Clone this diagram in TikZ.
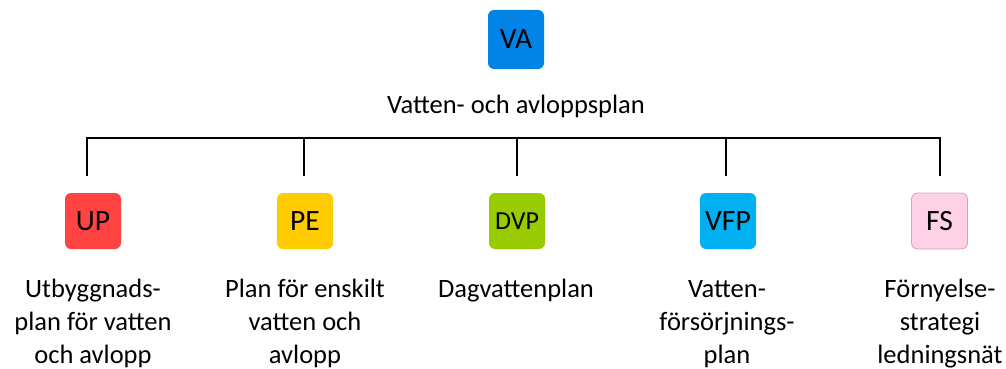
\documentclass[tikz,border=0pt]{standalone}
\usepackage{fontspec}
\setmainfont{Carlito}
\definecolor{cVA}{HTML}{0082E6}
\definecolor{cUP}{HTML}{FF4343}
\definecolor{cPE}{HTML}{FFCC00}
\definecolor{cDVP}{HTML}{99CC00}
\definecolor{cVFP}{HTML}{00B0F0}
\definecolor{cFS}{HTML}{FFD1E6}
\definecolor{cFSb}{HTML}{D9A0B8}
\tikzset{
  abox/.style={rounded corners=6pt, minimum width=56pt, minimum height=56pt, inner sep=0pt, font=\fontsize{29.5}{33}\selectfont},
  lbl/.style={align=center, inner sep=0pt, anchor=base, font=\fontsize{26.5}{33}\selectfont},
  conn/.style={line width=2pt},
}
\begin{document}
\begin{tikzpicture}[x=1pt,y=-1pt]
\useasboundingbox (0,0) rectangle (1006,369);
\node[abox, fill=cVA, minimum height=59pt] (va) at (516,39.5) {VA};
\node[lbl] (valbl) at (516,113) {Vatten- och avloppsplan};
\node[abox, fill=cUP] (up) at (93,221) {UP};
\node[abox, fill=cPE] (pe) at (305,221) {PE};
\node[abox, fill=cDVP, font=\fontsize{26}{30}\selectfont] (dvp) at (517,221) {DVP};
\node[abox, fill=cVFP] (vfp) at (728,221) {VFP};
\node[abox, fill=cFS, draw=cFSb, line width=0.8pt] (fs) at (939.5,221) {FS};
\node[lbl] (uplbl) at (93,363) {Utbyggnads-\\plan för vatten\\och avlopp};
\node[lbl] (pelbl) at (305,363) {Plan för enskilt\\vatten och\\avlopp};
\node[lbl] (dvplbl) at (516,297) {Dagvattenplan};
\node[lbl] (vfplbl) at (727,363) {Vatten-\\försörjnings-\\plan};
\node[lbl] (fslbl) at (940,363) {Förnyelse-\\strategi\\ledningsnät};
\coordinate (b1) at (87,138);
\coordinate (b2) at (304,138);
\coordinate (b3) at (517,138);
\coordinate (b4) at (726,138);
\coordinate (b5) at (940,138);
\coordinate (d1) at (87,176);
\coordinate (d2) at (304,176);
\coordinate (d3) at (517,176);
\coordinate (d4) at (726,176);
\coordinate (d5) at (940,176);
\draw[conn] (d1) -- (b1) -- (b5) -- (d5);
\draw[conn] (b2) -- (d2);
\draw[conn] (b3) -- (d3);
\draw[conn] (b4) -- (d4);
\end{tikzpicture}
\end{document}
